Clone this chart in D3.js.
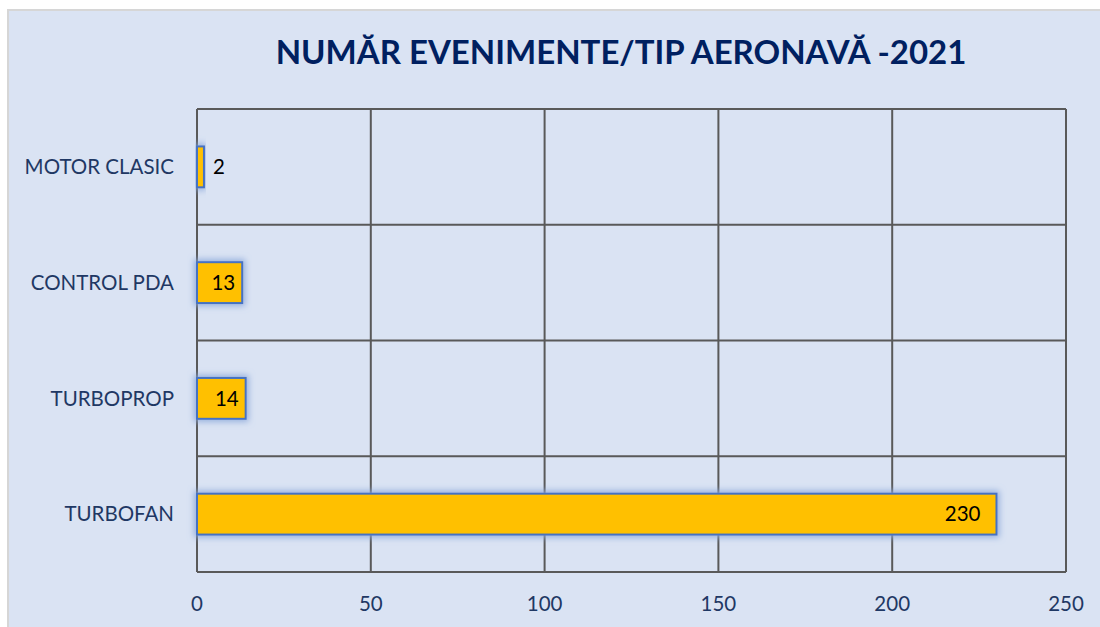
<html>
<head>
<meta charset="utf-8">
<script src="https://d3js.org/d3.v7.min.js"></script>
<style>
  body { margin: 0; background: #fff; }
  text { font-family: Lato, "Open Sans", sans-serif; }
</style>
</head>
<body>
<svg id="chart" width="1100" height="627"></svg>
<script>
// data
const categories = ['MOTOR CLASIC', 'CONTROL PDA', 'TURBOPROP', 'TURBOFAN']
const values = [2, 13, 14, 230]
const xTicks = [0, 50, 100, 150, 200, 250]
const title = 'NUMĂR EVENIMENTE/TIP AERONAVĂ -2021'

const svg = d3.select('#chart')
const navy = '#1F3864'

// background panel
svg.append('rect')
  .attr('x', 8).attr('y', 10)
  .attr('width', 1100).attr('height', 640)
  .attr('fill', '#DAE3F3')
  .attr('stroke', '#D6D6D6').attr('stroke-width', 2)

// glow filter for bars
const defs = svg.append('defs')
const glow = defs.append('filter').attr('id', 'glow')
  .attr('x', '-20%').attr('y', '-60%').attr('width', '140%').attr('height', '220%')
glow.append('feMorphology').attr('in', 'SourceAlpha').attr('operator', 'dilate').attr('radius', 2).attr('result', 'fat')
glow.append('feGaussianBlur').attr('in', 'fat').attr('stdDeviation', 3).attr('result', 'blur')
glow.append('feFlood').attr('flood-color', '#8EAADB').attr('flood-opacity', 0.9)
glow.append('feComposite').attr('in2', 'blur').attr('operator', 'in').attr('result', 'glowc')
const merge = glow.append('feMerge')
merge.append('feMergeNode').attr('in', 'glowc')
merge.append('feMergeNode').attr('in', 'SourceGraphic')

const plotLeft = 197, plotRight = 1066, plotTop = 109, plotBottom = 572

const x = d3.scaleLinear().domain([0, 250]).range([plotLeft, plotRight])
const y = d3.scaleBand().domain(categories).range([plotTop, plotBottom])
  .paddingInner(0.647).paddingOuter(0.3235)

// grid
const g = svg.append('g')
g.selectAll('line.v').data(xTicks).enter().append('line')
  .attr('x1', d => x(d)).attr('x2', d => x(d))
  .attr('y1', plotTop).attr('y2', plotBottom)
  .attr('stroke', '#595959').attr('stroke-width', 2)
const hLines = [plotTop].concat(categories.map(c => y(c) - y.step() * y.paddingInner() / 2 + y.step()))
g.selectAll('line.h').data(hLines).enter().append('line')
  .attr('x1', plotLeft).attr('x2', plotRight)
  .attr('y1', d => d).attr('y2', d => d)
  .attr('stroke', '#595959').attr('stroke-width', 2)

// bars
svg.append('g').selectAll('rect').data(values).enter().append('rect')
  .attr('x', x(0))
  .attr('y', (d, i) => y(categories[i]))
  .attr('width', d => x(d) - x(0))
  .attr('height', y.bandwidth())
  .attr('fill', '#FFC000')
  .attr('stroke', '#4472C4').attr('stroke-width', 2)
  .attr('filter', 'url(#glow)')

// value labels (inside end, outside when the bar is too short)
const fits = d => x(d) - x(0) > 35
svg.append('g').selectAll('text').data(values).enter().append('text')
  .attr('x', d => fits(d) ? x(d) - (d > 100 ? 16 : 7) : x(d) + 9)
  .attr('y', (d, i) => y(categories[i]) + y.bandwidth() / 2)
  .attr('dy', '0.35em')
  .attr('text-anchor', d => fits(d) ? 'end' : 'start')
  .attr('font-size', 20.5)
  .attr('fill', '#000')
  .text(d => d)

// category labels
svg.append('g').selectAll('text').data(categories).enter().append('text')
  .attr('x', plotLeft - 23)
  .attr('y', d => y(d) + y.bandwidth() / 2)
  .attr('dy', '0.35em')
  .attr('text-anchor', 'end')
  .attr('font-size', 20.5)
  .attr('fill', navy)
  .text(d => d)

// x tick labels
svg.append('g').selectAll('text').data(xTicks).enter().append('text')
  .attr('x', d => x(d))
  .attr('y', 604)
  .attr('dy', '0.35em')
  .attr('text-anchor', 'middle')
  .attr('font-size', 20.5)
  .attr('fill', navy)
  .text(d => d)

// title
svg.append('text')
  .attr('x', 621).attr('y', 52)
  .attr('dy', '0.35em')
  .attr('text-anchor', 'middle')
  .attr('font-size', 33)
  .attr('font-weight', 'bold')
  .attr('fill', '#002060')
  .text(title)
</script>
</body>
</html>
